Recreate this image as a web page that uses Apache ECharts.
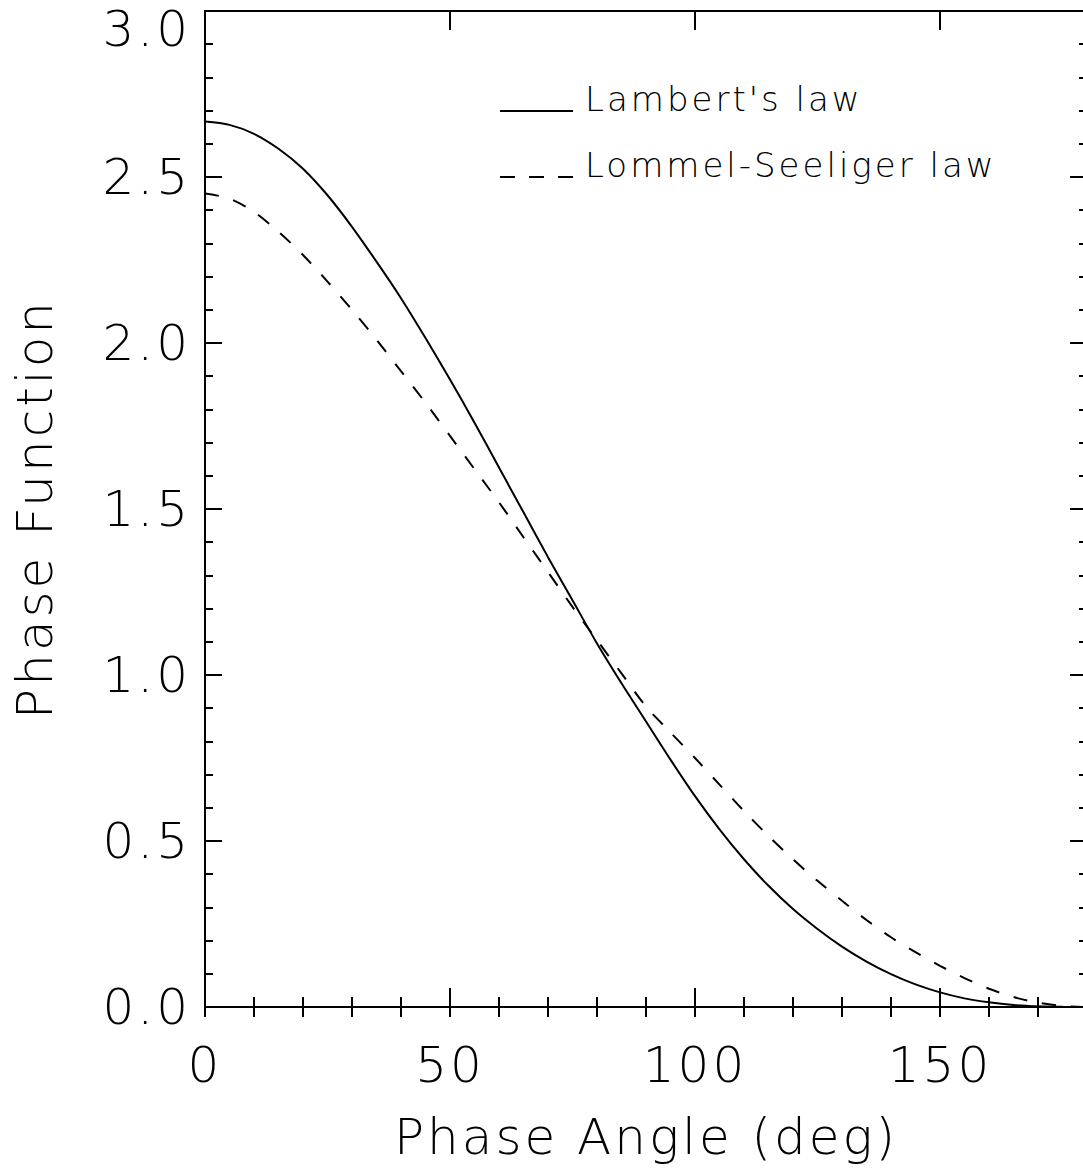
<!DOCTYPE html>
<html>
<head>
<meta charset="utf-8">
<script src="https://cdn.jsdelivr.net/npm/echarts@6/dist/echarts.min.js"></script>
<style>
html,body{margin:0;padding:0;background:#fff;}
#chart{width:1083px;height:1170px;}
#chart text{letter-spacing:3px;}
</style>
</head>
<body>
<div id="chart"></div>
<script>
// Phase angle (deg)
const phaseAngle = [0,5,10,15,20,25,30,35,40,45,50,55,60,65,70,75,80,85,90,95,100,105,110,115,120,125,130,135,140,145,150,155,160,165,170,175,180];
// Lambert's law phase function
const lambert = [2.667,2.657,2.63,2.585,2.525,2.445,2.35,2.245,2.135,2.015,1.89,1.76,1.625,1.49,1.355,1.225,1.095,0.975,0.86,0.745,0.635,0.535,0.445,0.365,0.295,0.235,0.182,0.137,0.099,0.068,0.044,0.026,0.014,0.006,0.002,0.0004,0];
// Lommel-Seeliger law phase function
const lommel = [2.45,2.435,2.395,2.335,2.265,2.185,2.10,2.01,1.915,1.82,1.72,1.62,1.52,1.415,1.31,1.205,1.105,1.005,0.905,0.827,0.75,0.67,0.59,0.515,0.445,0.38,0.32,0.262,0.21,0.165,0.124,0.087,0.055,0.03,0.013,0.003,0];
const seriesNames = ["Lambert's law", "Lommel-Seeliger law"];
const xTitle = 'Phase Angle (deg)';
const yTitle = 'Phase Function';

const FONT = "'DejaVu Sans'";
const FW = 200;
const black = '#000';

function pairs(xs, ys){ return xs.map((x,i)=>[x, ys[i]]); }

const chart = echarts.init(document.getElementById('chart'), null, {renderer:'svg'});

const lineStyle = {color: black, width: 2};
const majorX = (pos, showLabel) => ({
  type:'value', position: pos, min:0, max:180, interval:50,
  axisLine:{show:true, onZero:false, lineStyle: lineStyle},
  axisTick:{show:true, inside:true, length:19, lineStyle: lineStyle},
  axisLabel:{show: showLabel, showMaxLabel:false, margin:33, fontSize:50, fontFamily:FONT, fontWeight:FW, color:black},
  splitLine:{show:false},
  name: showLabel ? xTitle : '',
  nameLocation:'middle', nameGap:105,
  nameTextStyle:{fontSize:50, fontFamily:FONT, fontWeight:FW, color:black}
});
const minorX = (pos) => ({
  type:'value', position: pos, min:0, max:180, interval:10,
  axisLine:{show:false},
  axisTick:{show:true, inside:true, length:10, lineStyle: lineStyle},
  axisLabel:{show:false},
  splitLine:{show:false}
});
const yAx = (pos, showLabel) => ({
  type:'value', position: pos, min:0, max:3, interval:0.5,
  axisLine:{show:true, onZero:false, lineStyle: lineStyle},
  axisTick:{show:true, inside:true, length:17, lineStyle: lineStyle},
  minorTick:{show:true, splitNumber:5, length:8, lineStyle: lineStyle},
  axisLabel:{show: showLabel, margin:14, fontSize:50, lineHeight:35, fontFamily:FONT, fontWeight:FW, color:black,
    verticalAlignMaxLabel:'top',
    formatter: v => v.toFixed(1)},
  splitLine:{show:false},
  minorSplitLine:{show:false},
  name: showLabel ? yTitle : '',
  nameLocation:'middle', nameGap:145, nameRotate:90,
  nameTextStyle:{fontSize:50, fontFamily:FONT, fontWeight:FW, color:black}
});

const solidIcon = 'path://M0,0 M80,40 M0,31 L73,31 L73,33 L0,33 Z';
const dashIcon = 'path://M0,0 M80,40 M0,31 L15,31 L15,33 L0,33 Z M29,31 L44,31 L44,33 L29,33 Z M58,31 L73,31 L73,33 L58,33 Z';

chart.setOption({
  animation:false,
  backgroundColor:'#fff',
  grid:{left:205, top:11, width:882, height:996, containLabel:false, outerBoundsMode:'none'},
  legend:{
    orient:'vertical', left:500, top:79, padding:0, itemGap:26,
    itemWidth:80, itemHeight:40,
    itemStyle:{borderWidth:0},
    textStyle:{fontSize:34, fontFamily:FONT, fontWeight:FW, color:black},
    data:[
      {name: seriesNames[0], icon: solidIcon},
      {name: seriesNames[1], icon: dashIcon}
    ]
  },
  xAxis:[majorX('bottom', true), minorX('bottom'), majorX('top', false), minorX('top')],
  yAxis:[yAx('left', true), yAx('right', false)],
  series:[
    {name: seriesNames[0], type:'line', xAxisIndex:0, yAxisIndex:0, data: pairs(phaseAngle, lambert),
      showSymbol:false, symbol:'none', smooth:0.3, color:black,
      lineStyle:{color:black, width:2, type:'solid'}},
    {name: seriesNames[1], type:'line', xAxisIndex:0, yAxisIndex:0, data: pairs(phaseAngle, lommel),
      showSymbol:false, symbol:'none', smooth:0.3, color:black,
      lineStyle:{color:black, width:2, type:[14,15]}}
  ]
});
</script>
</body>
</html>
